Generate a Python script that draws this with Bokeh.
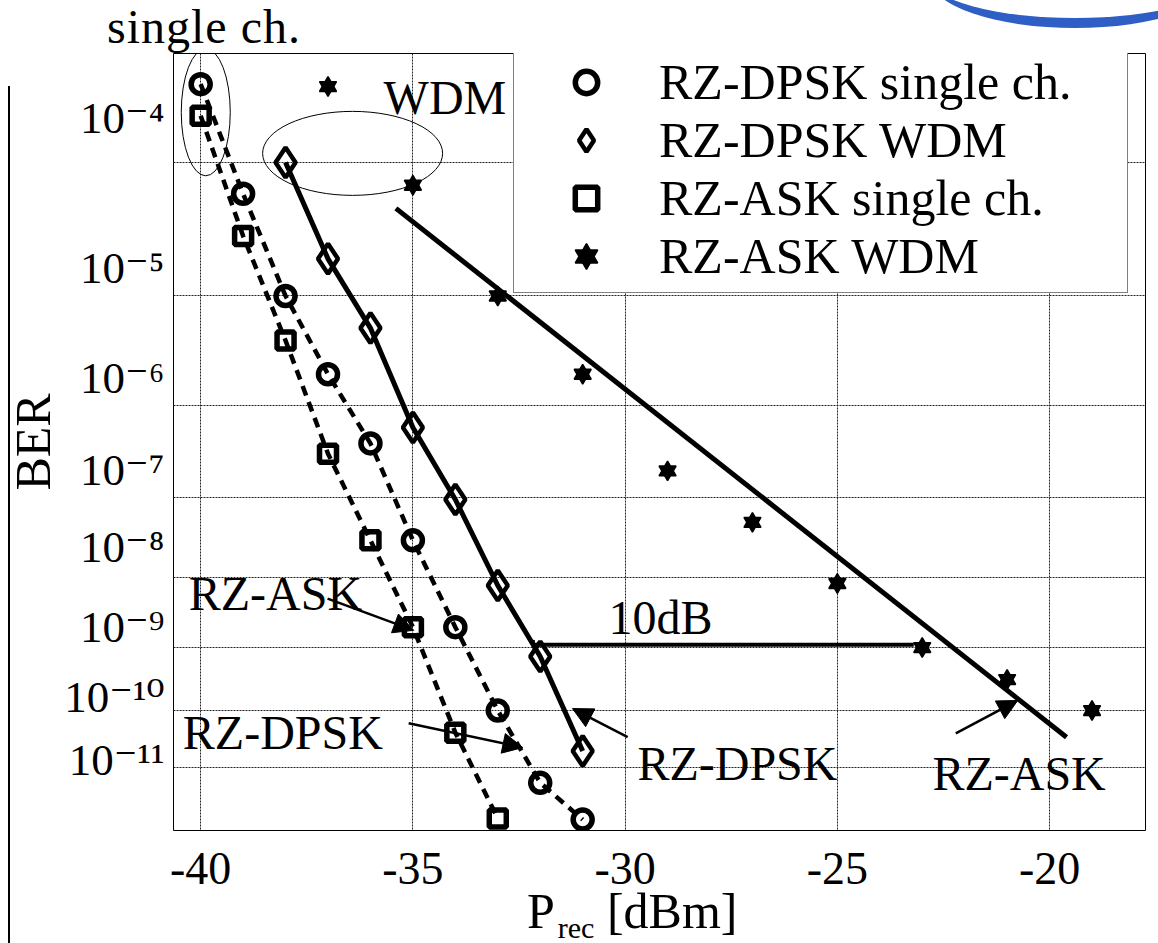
import numpy as np
from bokeh.plotting import figure
from bokeh.layouts import column
from bokeh.models import (Range1d, FixedTicker, CustomJSTickFormatter, Legend, LegendItem,
                          Arrow, NormalHead, Label, Div)
from bokeh.embed import file_html
from bokeh.resources import INLINE

# ---------------- data ----------------
p_dpsk_single = [-40, -39, -38, -37, -36, -35, -34, -33, -32, -31]
ber_dpsk_single = [3.1e-4, 6.1e-5, 1.0e-5, 2.0e-6, 4.0e-7, 3.0e-8, 2.0e-9, 1.0e-10, 5.2e-12, 1.0e-12]

p_dpsk_wdm = [-38, -37, -36, -35, -34, -33, -32, -31]
ber_dpsk_wdm = [1.0e-4, 2.0e-5, 5.3e-6, 5.9e-7, 9.4e-8, 7.7e-9, 7.3e-10, 2.0e-11]

p_ask_single = [-40, -39, -38, -37, -36, -35, -34, -33]
ber_ask_single = [2.0e-4, 3.0e-5, 4.1e-6, 3.1e-7, 3.0e-8, 2.0e-9, 4.2e-11, 1.05e-12]

p_ask_wdm = [-37, -35, -33, -31, -29, -27, -25, -23, -21, -19]
ber_ask_wdm = [3.0e-4, 7.0e-5, 1.0e-5, 2.0e-6, 2.0e-7, 5.0e-8, 8.2e-9, 1.0e-9, 3.2e-10, 1.0e-10]

# straight fit through RZ-ASK WDM
p_ask_wdm_fit = [-35.4, -19.6]
ber_ask_wdm_fit = [4.8e-5, 3.5e-11]

# 10 dB penalty bar at BER ~1e-9
p_penalty = [-32.15, -23.2]
ber_penalty = [1.1e-9, 1.1e-9]

x_ticks = [-40, -35, -30, -25, -20]
ber_decades = [1e-4, 1e-5, 1e-6, 1e-7, 1e-8, 1e-9, 1e-10, 1e-11]
ber_labels = ["10⁻⁴", "10⁻⁵", "10⁻⁶", "10⁻⁷", "10⁻⁸", "10⁻⁹", "10⁻¹⁰", "10⁻¹¹"]
# label positions on the log(-log BER) scale as printed (slightly above the grid lines)
label_q = [0.5697, 0.6790, 0.7585, 0.8250, 0.8809, 0.9390, 0.9898, 1.0356]

legend_labels = ["RZ-DPSK single ch.", "RZ-DPSK WDM", "RZ-ASK single ch.", "RZ-ASK WDM"]


def q(ber):
    return np.log10(-np.log10(np.asarray(ber, dtype=float)))


FONT = "Liberation Serif"
FONT_SUP = "Liberation Serif, DejaVu Serif"

p = figure(width=1158, height=847, output_backend="svg", toolbar_location=None,
           x_range=Range1d(-40.64, -17.74), y_range=Range1d(1.0871, 0.5229),
           min_border_left=173, min_border_top=0, min_border_right=13, min_border_bottom=70)
p.margin = (0, 0, 0, 0)
p.background_fill_color = "white"
p.border_fill_color = None
p.outline_line_color = "black"
p.outline_line_width = 1

# grid
p.xgrid.ticker = FixedTicker(ticks=x_ticks)
p.ygrid.ticker = FixedTicker(ticks=list(q(ber_decades)))
for g in (p.xgrid, p.ygrid):
    g.grid_line_color = "#222222"
    g.grid_line_dash = "2 1"
    g.grid_line_width = 1

# x axis
p.xaxis.ticker = FixedTicker(ticks=x_ticks)
p.xaxis.formatter = CustomJSTickFormatter(code="return tick.toFixed(0);")
p.xaxis.major_label_text_font = FONT
p.xaxis.major_label_text_font_size = "46px"
p.xaxis.major_label_text_color = "black"
p.xaxis.major_label_standoff = 16
p.xaxis.axis_line_color = None
p.xaxis.major_tick_line_color = None
p.xaxis.minor_tick_line_color = None

# y axis
p.yaxis.ticker = FixedTicker(ticks=label_q)
p.yaxis.formatter = CustomJSTickFormatter(args=dict(tv=label_q, labs=ber_labels), code="""
let best = -1, bd = 1e9;
for (let i = 0; i < tv.length; i++) { const d = Math.abs(tv[i] - tick); if (d < bd) { bd = d; best = i; } }
return bd < 1e-6 ? labs[best] : "";
""")
p.yaxis.major_label_text_font = FONT_SUP
p.yaxis.major_label_text_font_size = "45px"
p.yaxis.major_label_text_color = "black"
p.yaxis.major_label_standoff = 3
p.yaxis.axis_line_color = None
p.yaxis.major_tick_line_color = None
p.yaxis.minor_tick_line_color = None
p.yaxis.axis_label = "BER"
p.yaxis.axis_label_text_font = FONT
p.yaxis.axis_label_text_font_size = "50px"
p.yaxis.axis_label_text_font_style = "normal"
p.yaxis.axis_label_text_color = "black"
p.yaxis.axis_label_standoff = 0

# ---------------- series ----------------
dash = "10 7"
p.line(p_dpsk_single, q(ber_dpsk_single), line_color="black", line_width=4.5, line_dash=dash)
p.line(p_ask_single, q(ber_ask_single), line_color="black", line_width=4.5, line_dash=dash)
p.line(p_dpsk_wdm, q(ber_dpsk_wdm), line_color="black", line_width=5)
p.line(p_ask_wdm_fit, q(ber_ask_wdm_fit), line_color="black", line_width=5)

r_c = p.scatter(p_dpsk_single, q(ber_dpsk_single), marker="circle", size=19,
                line_color="black", line_width=5.5, fill_color=None)
r_d = p.scatter(p_dpsk_wdm, q(ber_dpsk_wdm), marker="diamond", size=30,
                line_color="black", line_width=4.5, fill_color=None)
r_s = p.scatter(p_ask_single, q(ber_ask_single), marker="square", size=17,
                line_color="black", line_width=5.5, fill_color=None)
r_t1 = p.scatter(p_ask_wdm, q(ber_ask_wdm), marker="triangle", size=17,
                 line_color="black", line_width=1.5, fill_color="black")
r_t2 = p.scatter(p_ask_wdm, q(ber_ask_wdm), marker="inverted_triangle", size=17,
                 line_color="black", line_width=1.5, fill_color="black")

# 10 dB bar
p.line(p_penalty, q(ber_penalty), line_color="black", line_width=4)
p.segment(x0=[p_penalty[0]], y0=[q(1.3e-9)], x1=[p_penalty[0]], y1=[q(9.2e-10)],
          line_color="black", line_width=2)

# ellipses marking the first points
ell_p = [-39.88, -36.42]
ell_ber = [2.1e-4, 1.15e-4]
p.ellipse(x=ell_p, y=list(q(ell_ber)), width=[49, 180], height=[127, 84],
          width_units="screen", height_units="screen",
          fill_color=None, line_color="black", line_width=1)

# arrows
arr_p0 = [-37.01, -35.10, -29.94, -22.21]
arr_b0 = [5.1e-9, 6.1e-11, 3.5e-11, 4.1e-11]
arr_p1 = [-34.98, -32.41, -31.24, -20.75]
arr_b1 = [1.8e-9, 2.3e-11, 1.08e-10, 1.47e-10]
for xs, ys, xe, ye in zip(arr_p0, q(arr_b0), arr_p1, q(arr_b1)):
    p.add_layout(Arrow(end=NormalHead(size=20, fill_color="black", line_color="black"),
                       x_start=xs, y_start=float(ys), x_end=xe, y_end=float(ye),
                       line_color="black", line_width=2.5))

# text annotations (data coordinates)
ann_text = ["RZ-ASK", "RZ-DPSK", "RZ-DPSK", "RZ-ASK", "10dB", "WDM"]
ann_p = [-40.28, -40.42, -29.71, -22.76, -30.39, -35.69]
ann_b = [6.0e-9, 4.2e-11, 1.17e-11, 7.8e-12, 2.8e-9, 2.6e-4]
for t, xx, yy in zip(ann_text, ann_p, q(ann_b)):
    p.add_layout(Label(x=xx, y=float(yy), text=t, text_font=FONT, text_font_size="48px",
                       text_color="black", text_align="left", text_baseline="alphabetic"))

# legend
legend = Legend(items=[LegendItem(label=legend_labels[0], renderers=[r_c]),
                       LegendItem(label=legend_labels[1], renderers=[r_d]),
                       LegendItem(label=legend_labels[2], renderers=[r_s]),
                       LegendItem(label=legend_labels[3], renderers=[r_t1, r_t2])],
                location=(340, 537))
legend.label_text_font = FONT
legend.label_text_font_size = "50px"
legend.label_text_color = "black"
legend.padding = 7
legend.spacing = 0
legend.margin = 0
legend.glyph_width = 130
legend.glyph_height = 56
legend.label_height = 56
legend.label_width = 461
legend.label_standoff = 8
legend.border_line_color = "black"
legend.border_line_width = 1
legend.background_fill_color = "white"
legend.background_fill_alpha = 1.0
p.add_layout(legend)

# texts outside the plot frame (and the slide's decorations)
top_div = Div(text=(
    '<div style="position:relative;width:1158px;height:53px;">'
    '<div style="position:absolute;left:107px;top:3px;font-family:\'Liberation Serif\';'
    'font-size:48px;line-height:48px;letter-spacing:1px;color:black;white-space:nowrap;">single ch.</div>'
    '<div style="position:absolute;left:930px;top:-72px;width:290px;height:100px;border-radius:50%;'
    'box-sizing:border-box;border-bottom:10px solid #2f5fc4;"></div>'
    '<div style="position:absolute;left:8px;top:86px;width:2px;height:857px;background:black;z-index:10;"></div>'
    '</div>'),
    width=1158, height=53, margin=(0, 0, 0, 0))
xlabel_div = Div(text=('<div style="position:relative;top:-14px;font-family:\'Liberation Serif\';'
                       'font-size:50px;line-height:50px;color:black;white-space:nowrap;">'
                       'P<span style="font-size:30px;vertical-align:-10px;margin-left:3px;">rec</span> [dBm]</div>'),
                 width=400, height=43, margin=(0, 0, 0, 527))

layout = column(top_div, p, xlabel_div, spacing=0)
open("out.html", "w").write(file_html(layout, INLINE))
